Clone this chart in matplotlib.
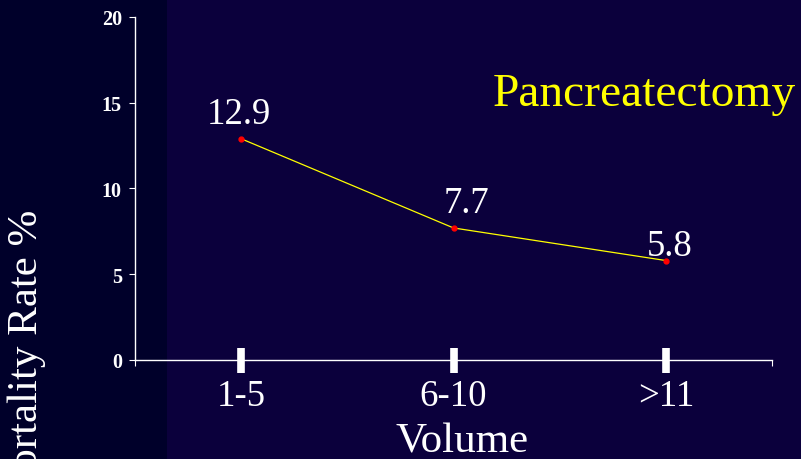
import matplotlib.pyplot as plt
from matplotlib.patches import Rectangle

# mortality by hospital volume, pancreatectomy
volume_groups = ["1-5", "6-10", ">11"]
mortality = [12.9, 7.7, 5.8]
y_ticks = [0, 5, 10, 15, 20]

# label offsets in pixels (dx, dy) from each point to the text baseline
label_offsets = [(-2, 16), (13, 16), (4, 6)]

serif = ["Liberation Serif", "DejaVu Serif"]
bg_left = "#00002a"
bg_right = "#0b003c"

fig = plt.figure(figsize=(8.01, 4.60), dpi=100)
fig.patch.set_facecolor(bg_left)
fig.patches.append(Rectangle((167 / 801, 0), 1, 1, transform=fig.transFigure,
                             facecolor=bg_right, edgecolor="none", zorder=-5))

ax = fig.add_axes([135 / 801, 1 - 361 / 460, 637 / 801, 343 / 460])
ax.set_facecolor("none")

x = list(range(len(volume_groups)))
ax.plot(x, mortality, color="#ffff00", lw=0.9, zorder=3)
ax.plot(x, mortality, ls="none", marker="o", ms=3.5, color="#ff0000", zorder=4)

for xi, v, (dx, dy) in zip(x, mortality, label_offsets):
    ax.annotate(f"{v}", (xi, v), xytext=(dx * 0.72, dy * 0.72),
                textcoords="offset points", ha="center", va="baseline",
                color="white", fontsize=26.5, family=serif)

ax.set_xlim(-0.5, 2.5)
ax.set_ylim(0, 20)
for s in ["top", "right"]:
    ax.spines[s].set_visible(False)
for s in ["left", "bottom"]:
    ax.spines[s].set_color("white")
    ax.spines[s].set_linewidth(1)

ax.set_yticks(y_ticks)
ax.set_yticklabels([str(t) for t in y_ticks], family=serif, fontweight="bold",
                   fontsize=14.5, color="white")
ax.tick_params(axis="y", direction="out", length=4.5, width=0.8, color="white", pad=5)

ax.set_xticks(x)
ax.set_xticklabels(volume_groups, family=serif, fontsize=26.5, color="white")
ax.tick_params(axis="x", which="major", direction="inout", length=18, width=5.5,
               color="white", pad=4)
ax.set_xticks([-0.5, 2.5], minor=True)
ax.tick_params(axis="x", which="minor", direction="out", length=4.5, width=0.8,
               color="white")

fig.text(462 / 801, 1 - 453 / 460, "Volume", ha="center", va="baseline",
         color="white", fontsize=31, family=serif)
fig.text(27 / 801, 1 - 210 / 460, "Mortality Rate %", rotation=90, ha="center",
         va="top", color="white", fontsize=31, family=serif)
fig.text(493 / 801, 1 - 106 / 460, "Pancreatectomy", ha="left", va="baseline",
         color="#ffff00", fontsize=34.2, family=serif)

fig.savefig("out.png", dpi=100, facecolor=fig.get_facecolor())
